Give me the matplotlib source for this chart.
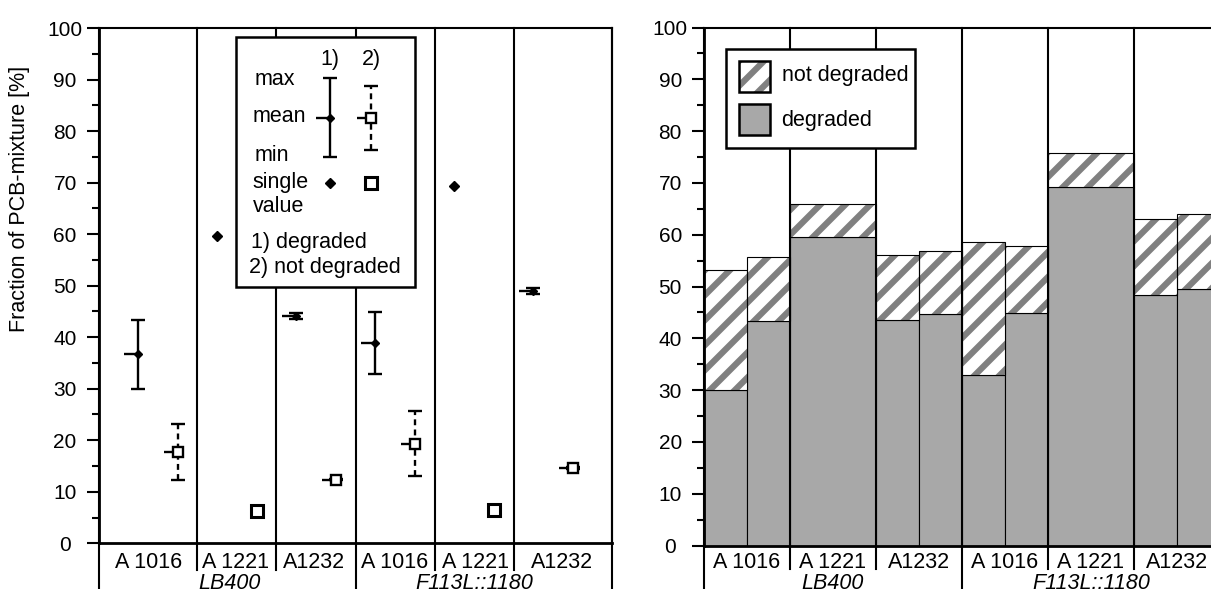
import numpy as np
import matplotlib.pyplot as plt
from matplotlib.patches import Rectangle
from matplotlib.path import Path
from matplotlib.ticker import MultipleLocator
from matplotlib.backend_bases import GraphicsContextBase

plt.rcParams['font.family'] = ['Liberation Sans', 'DejaVu Sans']
plt.rcParams['font.size'] = 15
plt.rcParams['hatch.linewidth'] = 4.5

# denser stripes than the default hatch (even count so the tile repeats cleanly)
_hatch_path = GraphicsContextBase.get_hatch_path
GraphicsContextBase.get_hatch_path = lambda self, density=8: _hatch_path(self, density)

# PCB fraction per culture replicate [%]
strains = ["LB400", "F113L::1180"]
mixtures = ["A 1016", "A 1221", "A1232", "A 1016", "A 1221", "A1232"]
degraded = [[30.0, 43.3], [59.6], [43.6, 44.7], [32.9, 44.8], [69.3], [48.3, 49.5]]
total = [[53.2, 55.6], [65.9], [56.0, 56.9], [58.5, 57.8], [75.8], [63.1, 64.0]]

GRAY = '#a8a8a8'
HATCH_GRAY = '#808080'
LEFT_MEAN = Path([(-1, 0), (0, 0)])  # short dash left of the mean
DASH = (0, (2.5, 1.8))


def style_axis(ax):
    ax.set_ylim(0, 100)
    ax.yaxis.set_major_locator(MultipleLocator(10))
    ax.yaxis.set_minor_locator(MultipleLocator(5))
    ax.tick_params(axis='y', which='major', length=8.6, width=1.5, pad=15.6, labelsize=15)
    ax.tick_params(axis='y', which='minor', length=5, width=1.5)
    ax.set_xticks([])
    for lbl in ax.get_yticklabels():
        lbl.set_horizontalalignment('center')
    ax.spines['left'].set_linewidth(2.0)
    ax.spines['bottom'].set_linewidth(2.0)
    ax.spines['top'].set_linewidth(1.5)
    ax.spines['right'].set_linewidth(1.5)


def draw_categories(ax, edges, centers, strain_x, y_cat, y_strain, y_short):
    # column dividers, the outer ones and the strain split run down to the bottom
    for k, xe in enumerate(edges):
        long = k in (0, 3, len(edges) - 1)
        ax.axvline(xe, ymin=-0.2 if long else y_short, ymax=1, color='k',
                   lw=1.5, clip_on=False, zorder=3)
    for xc, name in zip(centers, mixtures):
        ax.text(xc, y_cat, name, transform=ax.get_xaxis_transform(),
                ha='center', va='baseline', fontsize=15.5)
    for xs, name in zip(strain_x, strains):
        ax.text(xs, y_strain, name, transform=ax.get_xaxis_transform(),
                ha='center', va='baseline', fontsize=15.5, style='italic')


def mean_marks(ax, x, m, dashed, z):
    ax.plot(x, m, marker=LEFT_MEAN, ms=20, mew=1.7, mec='k', ls='none', zorder=z)
    if dashed:
        ax.plot(x, m, marker='s', ms=7, mfc='white', mec='k', mew=1.7, ls='none', zorder=z + 1)
    else:
        ax.plot(x, m, marker='D', ms=4.5, color='k', ls='none', zorder=z + 1)


def single_mark(ax, x, v, dashed, z):
    if dashed:
        ax.plot(x, v, marker='s', ms=8, mfc='white', mec='k', mew=2.2, ls='none', zorder=z)
    else:
        ax.plot(x, v, marker='D', ms=5.5, color='k', ls='none', zorder=z)


fig = plt.figure(figsize=(12.11, 5.89), dpi=100)
ax1 = fig.add_axes([98.7 / 1211, 1 - 543.3 / 589, 513.6 / 1211, 515.3 / 589])
ax2 = fig.add_axes([703.8 / 1211, 1 - 545.5 / 589, 516 / 1211, 518 / 589])

# ---- left: mean with min/max of degraded and not degraded fractions
ax1.set_xlim(-1, 12)
for i, (d, t) in enumerate(zip(degraded, total)):
    d = np.array(d)
    nd = np.array(t) - d
    for vals, x, dashed in ((d, 2 * i, False), (nd, 2 * i + 1, True)):
        m = vals.mean()
        if len(vals) > 1:
            eb = ax1.errorbar(x, m, yerr=[[m - vals.min()], [vals.max() - m]],
                              fmt='none', ecolor='k', elinewidth=1.7,
                              capsize=5, capthick=1.7, zorder=4)
            if dashed:
                eb[2][0].set_linestyle(DASH)
            mean_marks(ax1, x, m, dashed, 5)
        else:
            single_mark(ax1, x, m, dashed, 6)

style_axis(ax1)
draw_categories(ax1, [-1, 1.5, 3.5, 5.5, 7.5, 9.5, 12],
                [0.25, 2.45, 4.45, 6.5, 8.55, 10.72], [2.3, 8.5],
                -0.048, -0.0887, -0.052)

# key for the symbols
ax1.add_patch(Rectangle((0.2675, 0.4968), 0.3487, 0.4863, transform=ax1.transAxes,
                        facecolor='white', edgecolor='k', lw=1.8, zorder=7, clip_on=False))
key_x = [4.86, 5.88]
key_max = [90.3, 88.8]
key_mean = [82.5, 82.5]
key_min = [75.0, 76.3]
key_single = 70.0
for j, kx in enumerate(key_x):
    eb = ax1.errorbar(kx, key_mean[j], yerr=[[key_mean[j] - key_min[j]], [key_max[j] - key_mean[j]]],
                      fmt='none', ecolor='k', elinewidth=1.7, capsize=5, capthick=1.7, zorder=8)
    if j == 1:
        eb[2][0].set_linestyle(DASH)
    mean_marks(ax1, kx, key_mean[j], j == 1, 9)
    single_mark(ax1, kx, key_single, j == 1, 10)

tr = ax1.transAxes
ax1.text(0.4505, 0.938, "1)", transform=tr, ha='center', va='center', zorder=10, fontsize=15.5)
ax1.text(0.532, 0.938, "2)", transform=tr, ha='center', va='center', zorder=10, fontsize=15.5)
for txt, xx, yy in (("max", 0.3033, 0.901), ("mean", 0.2995, 0.829), ("min", 0.3033, 0.7535),
                    ("single", 0.2995, 0.701), ("value", 0.2995, 0.653),
                    ("1) degraded", 0.2958, 0.5847), ("2) not degraded", 0.292, 0.536)):
    ax1.text(xx, yy, txt, transform=tr, ha='left', va='center', zorder=10, fontsize=15.5)

fig.text(20 / 1211, 1 - 331.7 / 589, "Fraction of PCB-mixture [%]", rotation=90,
         ha='center', va='bottom', fontsize=15.5)

# ---- right: stacked bars per replicate
ax2.set_xlim(-0.5, 11.5)
for i, (d, t) in enumerate(zip(degraded, total)):
    d = np.array(d)
    nd = np.array(t) - d
    if len(d) == 1:
        xs, w = [2 * i + 0.5], 2.0
    else:
        xs, w = [2 * i, 2 * i + 1], 1.0
    ax2.bar(xs, d, width=w, color=GRAY, edgecolor='k', linewidth=0.8, zorder=1)
    ax2.bar(xs, nd, bottom=d, width=w, facecolor='white', edgecolor=HATCH_GRAY,
            hatch='/', linewidth=0, zorder=1)
    ax2.bar(xs, nd, bottom=d, width=w, facecolor='none', edgecolor='k',
            linewidth=0.8, zorder=2)

style_axis(ax2)
draw_categories(ax2, [-0.5, 1.5, 3.5, 5.5, 7.5, 9.5, 11.5],
                [0.5, 2.5, 4.5, 6.5, 8.5, 10.5], [2.5, 8.5],
                -0.0434, -0.084, -0.046)

tr2 = ax2.transAxes
ax2.add_patch(Rectangle((0.043, 0.768), 0.366, 0.19, transform=tr2,
                        facecolor='white', edgecolor='k', lw=1.8, zorder=7))
ax2.add_patch(Rectangle((0.069, 0.876), 0.0585, 0.059, transform=tr2, facecolor='white',
                        edgecolor=HATCH_GRAY, hatch='/', lw=0, zorder=8))
ax2.add_patch(Rectangle((0.069, 0.876), 0.0585, 0.059, transform=tr2, facecolor='none',
                        edgecolor='k', lw=1.8, zorder=9))
ax2.add_patch(Rectangle((0.069, 0.7925), 0.0585, 0.0595, transform=tr2, facecolor=GRAY,
                        edgecolor='k', lw=1.8, zorder=9))
ax2.text(0.1506, 0.9064, "not degraded", transform=tr2, ha='left', va='center', zorder=10, fontsize=15.5)
ax2.text(0.1506, 0.8195, "degraded", transform=tr2, ha='left', va='center', zorder=10, fontsize=15.5)

fig.savefig('out.png', dpi=100)
